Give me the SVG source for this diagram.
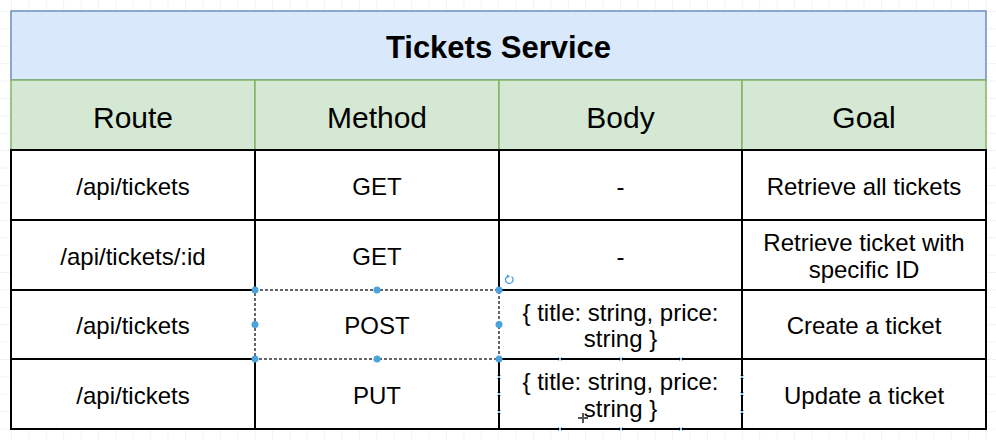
<svg xmlns="http://www.w3.org/2000/svg" width="996" height="440" viewBox="0 0 996 440">
<style>
.t{font-family:"Liberation Sans",Arial,Helvetica,sans-serif;fill:#000;text-anchor:middle}
.title{font-size:31px;font-weight:bold}
.hd{font-size:30px}
.bd{font-size:24px}
.cell{fill:#fff;stroke:#000;stroke-width:2}
.hcell{fill:#d5e8d4;stroke:#82b366;stroke-width:1.5}
.h{fill:#4aa3df}
</style>
<defs>
<pattern id="grid" patternUnits="userSpaceOnUse" x="11" y="11" width="17.4" height="17.4">
<path d="M0 0H17.4M0 0V17.4" fill="none" stroke="#e6e6e6" stroke-width="1"/>
</pattern>
</defs>
<rect width="996" height="440" fill="#fff"/>
<rect width="996" height="440" fill="url(#grid)"/>
<g id="title">
<rect x="11" y="11" width="975" height="69" fill="#dae8fc" stroke="#6c8ebf" stroke-width="1.5"/>
<text class="t title" x="498.5" y="58">Tickets Service</text>
</g>
<g id="header">
<rect class="hcell" x="11" y="80" width="244" height="70"/>
<rect class="hcell" x="255" y="80" width="244" height="70"/>
<rect class="hcell" x="499" y="80" width="243" height="70"/>
<rect class="hcell" x="742" y="80" width="244" height="70"/>
<text class="t hd" x="133" y="128">Route</text>
<text class="t hd" x="377" y="128">Method</text>
<text class="t hd" x="620.5" y="128">Body</text>
<text class="t hd" x="864" y="128">Goal</text>
</g>
<g id="body">
<rect class="cell" x="11" y="150" width="975" height="279"/>
<path d="M11 220H986M11 290H986M11 359H986M255 150V429M499 150V429M742 150V429" stroke="#000" stroke-width="2" fill="none"/>
</g>
<g id="row1">
<text class="t bd" x="133" y="195">/api/tickets</text>
<text class="t bd" x="377" y="195">GET</text>
<text class="t bd" x="620.5" y="195">-</text>
<text class="t bd" x="864" y="195">Retrieve all tickets</text>
</g>
<g id="row2">
<text class="t bd" x="133" y="265">/api/tickets/:id</text>
<text class="t bd" x="377" y="265">GET</text>
<text class="t bd" x="620.5" y="265">-</text>
<text class="t bd" x="864" y="251">Retrieve ticket with</text>
<text class="t bd" x="864" y="278">specific ID</text>
</g>
<g id="row3">
<text class="t bd" x="133" y="334">/api/tickets</text>
<rect x="255" y="290" width="244" height="69" fill="none" stroke="#fff" stroke-width="2"/>
<rect x="255" y="290" width="244" height="69" fill="none" stroke="#333" stroke-width="1.5" stroke-dasharray="3 2"/>
<text class="t bd" x="377" y="334">POST</text>
<text class="t bd" x="620.5" y="321">{ title: string, price:</text>
<text class="t bd" x="620.5" y="347">string }</text>
<text class="t bd" x="864" y="334">Create a ticket</text>
</g>
<g id="row4">
<text class="t bd" x="133" y="404">/api/tickets</text>
<text class="t bd" x="377" y="404">PUT</text>
<text class="t bd" x="620.5" y="390">{ title: string, price:</text>
<text class="t bd" x="620.5" y="417">string }</text>
<text class="t bd" x="864" y="404">Update a ticket</text>
</g>
<g id="selection">
<circle class="h" cx="255" cy="290" r="3.5"/>
<circle class="h" cx="377" cy="290" r="3.5"/>
<circle class="h" cx="499" cy="290" r="3.5"/>
<circle class="h" cx="255" cy="324.5" r="3.5"/>
<circle class="h" cx="499" cy="324.5" r="3.5"/>
<circle class="h" cx="255" cy="359" r="3.5"/>
<circle class="h" cx="377" cy="359" r="3.5"/>
<circle class="h" cx="499" cy="359" r="3.5"/>
<path d="M511.5 276.5A3.8 3.8 0 1 1 508 276" fill="none" stroke="#4aa3df" stroke-width="1.3"/>
<path d="M507 274.5L510 276L507.5 278.5Z" fill="#4aa3df"/>
<g stroke="#7fbde8" stroke-width="1">
<path d="M497 375l4 4M501 375l-4 4M497 392l4 4M501 392l-4 4M497 410l4 4M501 410l-4 4M740 375l4 4M744 375l-4 4M740 392l4 4M744 392l-4 4M740 410l4 4M744 410l-4 4"/>
<path d="M558 357l4 4M562 357l-4 4M619 357l4 4M623 357l-4 4M679 357l4 4M683 357l-4 4M558 427l4 4M562 427l-4 4M619 427l4 4M623 427l-4 4M679 427l4 4M683 427l-4 4"/>
</g>
<path d="M583 413V423M578 418H588" stroke="#555" stroke-width="2"/>
</g>
</svg>
